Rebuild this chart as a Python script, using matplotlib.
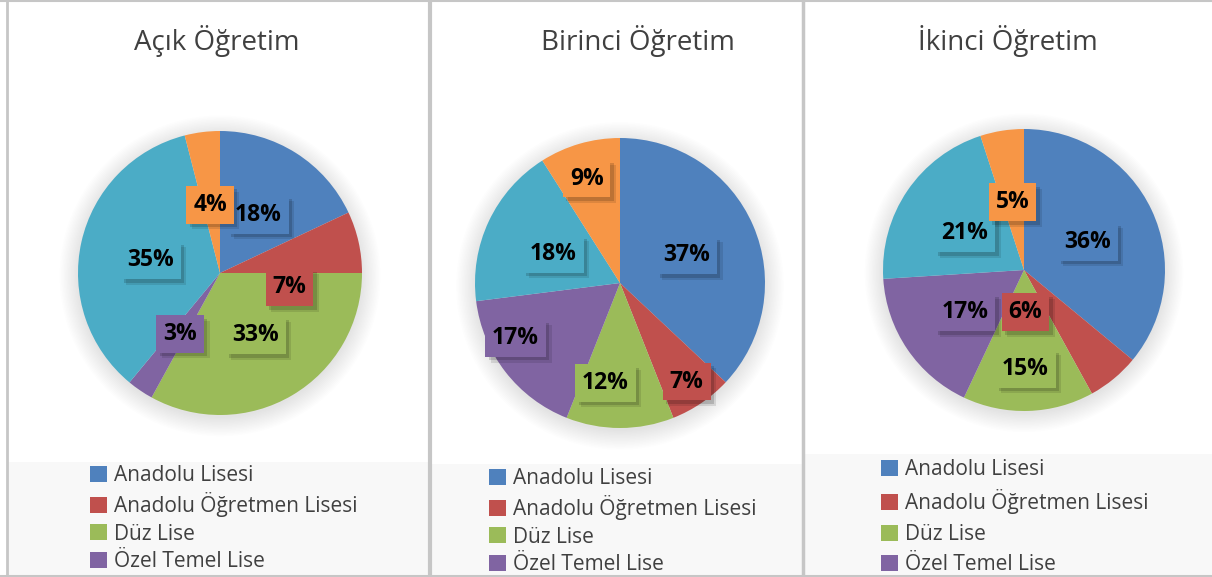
# Three pie charts: Öğretim türüne göre lise dağılımı

import matplotlib.pyplot as plt
from matplotlib.patches import Circle, Rectangle
from matplotlib.lines import Line2D
import matplotlib.patheffects as pe

plt.rcParams['font.family'] = ['Open Sans', 'DejaVu Sans']

categories = ["Anadolu Lisesi", "Anadolu Öğretmen Lisesi", "Düz Lise",
              "Özel Temel Lise", "Meslek Lisesi", "Diğer"]
titles = ["Açık Öğretim", "Birinci Öğretim", "İkinci Öğretim"]
acik = [18, 7, 33, 3, 35, 4]
birinci = [37, 7, 12, 17, 18, 9]
ikinci = [36, 6, 15, 17, 21, 5]
series = [acik, birinci, ikinci]

colors = ["#4F81BD", "#C0504D", "#9BBB59", "#8064A2", "#4BACC6", "#F79646"]

W, H = 1212, 577
fig = plt.figure(figsize=(W/100, H/100), dpi=100)

# layout (pixels, y from top)
pie_pos = [(220, 273, 142), (620, 283, 145), (1024, 270, 141)]
title_pos = [(217, 41), (638, 41), (1008, 41)]
panel_x = [(7, 428), (432, 802), (805, 1212)]
legend_top = [462, 464, 454]
legend_anchor = [(88, 463), (487, 466), (879, 457)]
legend_spacing = [0.3, 0.3, 0.45]
# label positions in pie units (x right, y up)
label_xy = [
    [(0.27, 0.41), (0.49, -0.10), (0.25, -0.44), (-0.28, -0.43), (-0.49, 0.09), (-0.07, 0.48)],
    [(0.46, 0.19), (0.46, -0.68), (-0.10, -0.69), (-0.72, -0.38), (-0.46, 0.20), (-0.23, 0.72)],
    [(0.45, 0.20), (0.01, -0.30), (0.01, -0.70), (-0.42, -0.30), (-0.42, 0.26), (-0.08, 0.48)],
]

# background: legend areas and borders
bg = fig.add_axes([0, 0, 1, 1])
bg.set_xlim(0, W); bg.set_ylim(H, 0); bg.axis("off")
for (x0, x1), top in zip(panel_x, legend_top):
    bg.add_patch(Rectangle((x0, top), x1 - x0, H - top, fc="#f8f8f8", ec="none"))
gray = "#c6c6c6"
bg.add_line(Line2D([7, 7], [0, H], color=gray, lw=2))
bg.add_line(Line2D([0, W], [0.7, 0.7], color=gray, lw=1.5))
bg.add_line(Line2D([0, W], [575.5, 575.5], color=gray, lw=2.2))
bg.add_line(Line2D([429.5, 429.5], [0, H], color=gray, lw=3))
bg.add_line(Line2D([803, 803], [0, H], color=gray, lw=2.5))

box_shadow = [pe.SimplePatchShadow(offset=(4, -4), shadow_rgbFace="black", alpha=0.10),
              pe.SimplePatchShadow(offset=(2.5, -2.5), shadow_rgbFace="black", alpha=0.15),
              pe.Normal()]

for k, vals in enumerate(series):
    cx, cy, r = pie_pos[k]
    ax = fig.add_axes([(cx - r)/W, 1 - (cy + r)/H, 2*r/W, 2*r/H])
    # soft shadow around the pie
    for i in range(14):
        ax.add_patch(Circle((0, -0.02), 1.0 + 0.01*i, fc="black", ec="none",
                            alpha=0.009, clip_on=False, zorder=0))
    wedges, _ = ax.pie(vals, colors=colors, startangle=90, counterclock=False,
                       wedgeprops=dict(linewidth=0), radius=1)
    for w in wedges:
        w.set_zorder(2)
    ax.set_xlim(-1, 1); ax.set_ylim(-1, 1)
    ax.set_aspect("auto")
    ax.axis("off")

    for v, c, (lx, ly) in zip(vals, colors, label_xy[k]):
        t = ax.text(lx, ly, f"{v}%", ha="center", va="center", fontsize=16.5,
                    fontweight="bold", color="black", zorder=4,
                    bbox=dict(boxstyle="square,pad=0.3", fc=c, ec="none"))
        t.get_bbox_patch().set_path_effects(box_shadow)

    tx, ty = title_pos[k]
    fig.text(tx/W, 1 - ty/H, titles[k], ha="center", va="center",
             fontsize=20, color="#404040")

    lx, ly = legend_anchor[k]
    ax.legend(wedges[:4], categories[:4], loc="upper left",
              bbox_to_anchor=(lx/W, 1 - ly/H), bbox_transform=fig.transFigure,
              frameon=False, fontsize=15, labelcolor="#404040",
              handlelength=0.8, handleheight=0.8, handletextpad=0.35,
              labelspacing=legend_spacing[k], borderaxespad=0, borderpad=0.1)

fig.savefig("out.png", dpi=100)
